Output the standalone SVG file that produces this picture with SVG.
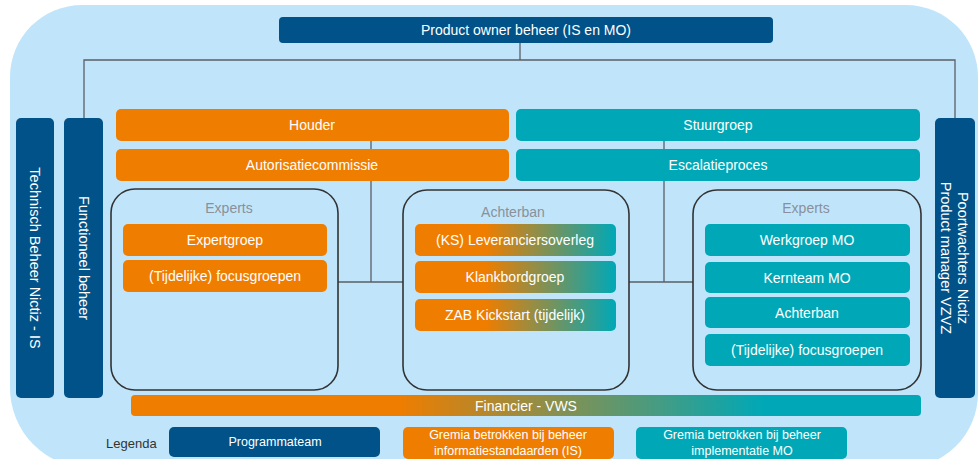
<svg xmlns="http://www.w3.org/2000/svg" width="978" height="459" viewBox="0 0 978 459">
  <defs>
    <linearGradient id="gradAchter" x1="0" y1="0" x2="1" y2="0">
      <stop offset="0" stop-color="#EF7D00"/>
      <stop offset="0.35" stop-color="#EF7D00"/>
      <stop offset="1" stop-color="#00A8B7"/>
    </linearGradient>
    <linearGradient id="gradFin" x1="0" y1="0" x2="1" y2="0">
      <stop offset="0" stop-color="#EF7D00"/>
      <stop offset="0.34" stop-color="#EF7D00"/>
      <stop offset="0.8" stop-color="#00A8B7"/>
      <stop offset="1" stop-color="#00A8B7"/>
    </linearGradient>
  </defs>
  <style>
    .bg { fill: #C0E5FB; }
    .dark { fill: #005288; }
    .orange { fill: #EF7D00; }
    .teal { fill: #00A8B7; }
    .group { fill: none; stroke: #333333; stroke-width: 1.6; }
    .conn { fill: none; stroke: #5A5F66; stroke-width: 1.3; }
    text { font-family: "Liberation Sans", Arial, sans-serif; }
    .lbl { fill: #FFFFFF; font-size: 14px; text-anchor: middle; dominant-baseline: central; }
    .side { fill: #FFFFFF; font-size: 14.5px; text-anchor: middle; dominant-baseline: central; }
    .head { fill: #8A9099; font-size: 14px; text-anchor: middle; dominant-baseline: central; }
    .leg { fill: #FFFFFF; font-size: 12.5px; text-anchor: middle; dominant-baseline: central; }
    .legt { fill: #333333; font-size: 13px; text-anchor: start; dominant-baseline: central; }
  </style>

  <path class="bg" d="M 82,5 H 906 A 72 72 0 0 1 978 77 V 393 A 75 75 0 0 1 903 468 H 90 A 80 80 0 0 1 10 388 V 77 A 72 72 0 0 1 82 5 Z"/>

  <g id="connectors">
    <path class="conn" d="M 520,43 V 60 M 84,118 V 60 H 955 V 118"/>
    <path class="conn" d="M 371,141 V 282 M 338,282 H 403"/>
    <path class="conn" d="M 664,141 V 282 M 629,282 H 693"/>
  </g>

  <g id="product-owner">
    <rect class="dark" x="279" y="17" width="494" height="26" rx="4"/>
    <text class="lbl" x="526" y="30">Product owner beheer (IS en MO)</text>
  </g>

  <g id="technisch-beheer">
    <rect class="dark" x="16" y="118" width="38" height="280" rx="5"/>
    <text class="side" transform="translate(35,258) rotate(90)">Technisch Beheer Nictiz - IS</text>
  </g>
  <g id="functioneel-beheer">
    <rect class="dark" x="64" y="118" width="39" height="280" rx="5"/>
    <text class="side" transform="translate(83.5,258) rotate(90)">Functioneel beheer</text>
  </g>
  <g id="poortwachters">
    <rect class="dark" x="935" y="118" width="40" height="280" rx="5"/>
    <text class="side" transform="translate(955,258) rotate(90)" y="-8">Poortwachters Nictiz</text>
    <text class="side" transform="translate(955,258) rotate(90)" y="9">Product manager VZVZ</text>
  </g>

  <g id="houder">
    <rect class="orange" x="116" y="109" width="393" height="32" rx="5"/>
    <text class="lbl" x="312" y="125">Houder</text>
  </g>
  <g id="autorisatiecommissie">
    <rect class="orange" x="116" y="149" width="393" height="32" rx="5"/>
    <text class="lbl" x="312" y="165">Autorisatiecommissie</text>
  </g>
  <g id="stuurgroep">
    <rect class="teal" x="516" y="109" width="404" height="32" rx="5"/>
    <text class="lbl" x="718" y="125">Stuurgroep</text>
  </g>
  <g id="escalatieproces">
    <rect class="teal" x="516" y="149" width="404" height="32" rx="5"/>
    <text class="lbl" x="718" y="165">Escalatieproces</text>
  </g>

  <g id="experts-is">
    <rect class="group" x="111" y="189" width="227" height="201" rx="24"/>
    <text class="head" x="229" y="208">Experts</text>
  </g>
  <g id="expertgroep">
    <rect class="orange" x="123" y="224" width="204" height="32" rx="5"/>
    <text class="lbl" x="225" y="240">Expertgroep</text>
  </g>
  <g id="focusgroepen-is">
    <rect class="orange" x="123" y="260" width="204" height="32" rx="5"/>
    <text class="lbl" x="225" y="276">(Tijdelijke) focusgroepen</text>
  </g>

  <g id="achterban-group">
    <rect class="group" x="403" y="190" width="226" height="200" rx="24"/>
    <text class="head" x="513" y="212">Achterban</text>
  </g>
  <g id="leveranciersoverleg">
    <rect fill="url(#gradAchter)" x="415" y="224" width="201" height="32" rx="5"/>
    <text class="lbl" x="515" y="240">(KS) Leveranciersoverleg</text>
  </g>
  <g id="klankbordgroep">
    <rect fill="url(#gradAchter)" x="415" y="261" width="201" height="32" rx="5"/>
    <text class="lbl" x="515" y="277">Klankbordgroep</text>
  </g>
  <g id="zab-kickstart">
    <rect fill="url(#gradAchter)" x="415" y="299" width="201" height="32" rx="5"/>
    <text class="lbl" x="515" y="315">ZAB Kickstart (tijdelijk)</text>
  </g>

  <g id="experts-mo">
    <rect class="group" x="693" y="190" width="228" height="200" rx="24"/>
    <text class="head" x="806" y="208">Experts</text>
  </g>
  <g id="werkgroep-mo">
    <rect class="teal" x="705" y="224" width="205" height="32" rx="5"/>
    <text class="lbl" x="807" y="240">Werkgroep MO</text>
  </g>
  <g id="kernteam-mo">
    <rect class="teal" x="705" y="262" width="205" height="31" rx="5"/>
    <text class="lbl" x="807" y="277.5">Kernteam MO</text>
  </g>
  <g id="achterban-mo">
    <rect class="teal" x="705" y="297" width="205" height="31" rx="5"/>
    <text class="lbl" x="807" y="312.5">Achterban</text>
  </g>
  <g id="focusgroepen-mo">
    <rect class="teal" x="705" y="334" width="205" height="32" rx="5"/>
    <text class="lbl" x="807" y="350">(Tijdelijke) focusgroepen</text>
  </g>

  <g id="financier">
    <rect fill="url(#gradFin)" x="131" y="395" width="790" height="21" rx="4"/>
    <text class="lbl" x="526" y="405.5">Financier - VWS</text>
  </g>

  <g id="legenda">
    <text class="legt" x="106" y="443">Legenda</text>
  </g>
  <g id="legend-programmateam">
    <rect class="dark" x="169" y="427" width="211" height="30" rx="5"/>
    <text class="leg" x="275" y="442">Programmateam</text>
  </g>
  <g id="legend-is">
    <rect class="orange" x="403" y="427" width="211" height="32" rx="5"/>
    <text class="leg" x="508" y="434.5">Gremia betrokken bij beheer</text>
    <text class="leg" x="508" y="450.5">informatiestandaarden (IS)</text>
  </g>
  <g id="legend-mo">
    <rect class="teal" x="636" y="427" width="211" height="32" rx="5"/>
    <text class="leg" x="742" y="434.5">Gremia betrokken bij beheer</text>
    <text class="leg" x="742" y="450.5">implementatie MO</text>
  </g>
</svg>
